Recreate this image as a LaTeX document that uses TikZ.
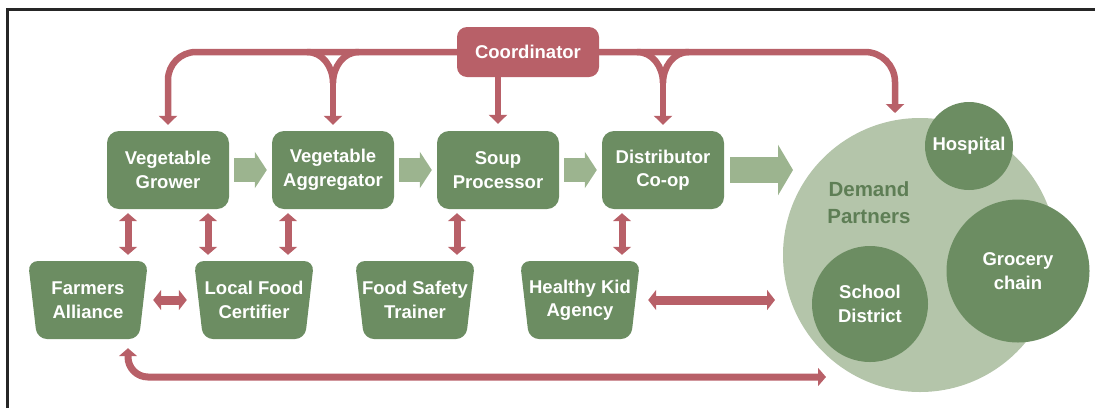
\documentclass[tikz,border=0pt]{standalone}
\usepackage{fontspec}
\setmainfont{Liberation Sans}
\usetikzlibrary{arrows.meta}

\definecolor{boxgreen}{RGB}{108,141,98}
\definecolor{palegreen}{RGB}{180,197,170}
\definecolor{flowgreen}{RGB}{156,180,143}
\definecolor{linkred}{RGB}{184,96,104}
\definecolor{darkgreen}{RGB}{94,126,85}

\tikzset{
  txt/.style={text=white, font=\bfseries\fontsize{18.5}{23.5}\selectfont, align=center, inner sep=0pt},
  box/.style={txt, fill=boxgreen, rounded corners=12pt, minimum width=122pt, minimum height=78pt},
  trap/.style={txt, minimum width=120pt, minimum height=78pt,
    path picture={\fill[boxgreen, rounded corners=10pt]
      (path picture bounding box.north west) -- (path picture bounding box.north east)
      -- ([xshift=-9pt]path picture bounding box.south east)
      -- ([xshift=9pt]path picture bounding box.south west) -- cycle;}},
  coordbox/.style={txt, fill=linkred, rounded corners=10pt, minimum width=142pt, minimum height=50pt},
  circ/.style={txt, circle, fill=boxgreen},
  flow/.style={draw=flowgreen, line width=24pt, -{Triangle[width=36pt,length=12pt]}},
  link/.style={draw=linkred, line width=6.5pt, -{Triangle[width=18pt,length=9pt]}},
  dbl/.style={draw=linkred, line width=7pt, {Triangle[width=18pt,length=8pt]}-{Triangle[width=18pt,length=8pt]}}
}

\begin{document}
\begin{tikzpicture}[x=1pt, y=-1pt]
  \useasboundingbox (0,0) rectangle (1095,408);
  \draw[line width=3pt, black!85] (7.5,408) -- (7.5,9.5) -- (1095,9.5);

  \node[box] (grower) at (168,170) {Vegetable\\Grower};
  \node[box] (agg) at (333,170) {Vegetable\\Aggregator};
  \node[box] (soup) at (498,170) {Soup\\Processor};
  \node[box] (dist) at (663,170) {Distributor\\Co-op};

  \node[trap] (farmers) at (88,300) {Farmers\\Alliance};
  \node[trap] (local) at (254,300) {Local Food\\Certifier};
  \node[trap] (safety) at (415,300) {Food Safety\\Trainer};
  \node[trap] (kid) at (580,300) {Healthy Kid\\Agency};

  \node[circle, fill=palegreen, minimum size=274pt] (demand) at (920,255) {};
  \node[text=darkgreen, font=\bfseries\fontsize{20.5}{27}\selectfont, align=center] (dlabel) at (869,203) {Demand\\Partners};
  \node[circ, minimum size=88pt] (hosp) at (969,146) {Hospital};
  \node[circ, minimum size=143pt] (grocery) at (1018,271) {Grocery\\chain};
  \node[circ, minimum size=116pt] (school) at (870,304) {School\\District};

  \coordinate (dtop) at (895,113);
  \coordinate (dleft) at (793,170);
  \coordinate (dmid) at (775,300);
  \coordinate (dbot) at (826,377);

  \node[coordbox] (coord) at (528,52) {Coordinator};

  \draw[link, rounded corners=28pt, shorten >=6pt] (coord.west) -| (grower.north);
  \draw[link, rounded corners=30pt] (coord.east) -| (dtop);
  \draw[link, shorten >=7pt] (coord.south -| soup.north) -- (soup.north);
  \foreach \n in {agg,dist} {
    \coordinate (fork) at (\n.north |- coord.west);
    \draw[draw=linkred, line width=6.5pt] ([xshift=-26pt]fork) to[out=0,in=90] ([yshift=-31pt]fork)
      to[out=90,in=180] ([xshift=26pt]fork);
    \draw[link, shorten >=6pt] ([yshift=-30pt]fork) -- (\n.north);
  }

  \foreach \a/\b/\x in {grower/farmers/128, grower/local/208, agg/local/288, soup/safety/457, dist/kid/622}
    \draw[dbl, shorten <=4pt, shorten >=6pt] (\x,0 |- \a.south) -- (\x,0 |- \b.north);
  \draw[dbl, line width=9pt, {Triangle[width=20pt,length=8pt]}-{Triangle[width=20pt,length=8pt]},
    shorten <=5pt, shorten >=7pt] (farmers.east) -- (local.west);
  \draw[dbl, line width=9pt, {Triangle[width=20pt,length=8pt]}-{Triangle[width=20pt,length=8pt]},
    shorten <=8pt] (kid.east) -- (dmid);
  \draw[dbl, rounded corners=20pt, shorten <=9pt] (128,0 |- farmers.south) |- (dbot);

  \foreach \a/\b in {grower/agg, agg/soup, soup/dist}
    \draw[flow, shorten <=5pt, shorten >=5pt] (\a) -- (\b);
  \draw[flow, line width=26pt, -{Triangle[width=50pt,length=15pt]}, shorten <=6pt] (dist.east) -- (dleft);
\end{tikzpicture}
\end{document}
